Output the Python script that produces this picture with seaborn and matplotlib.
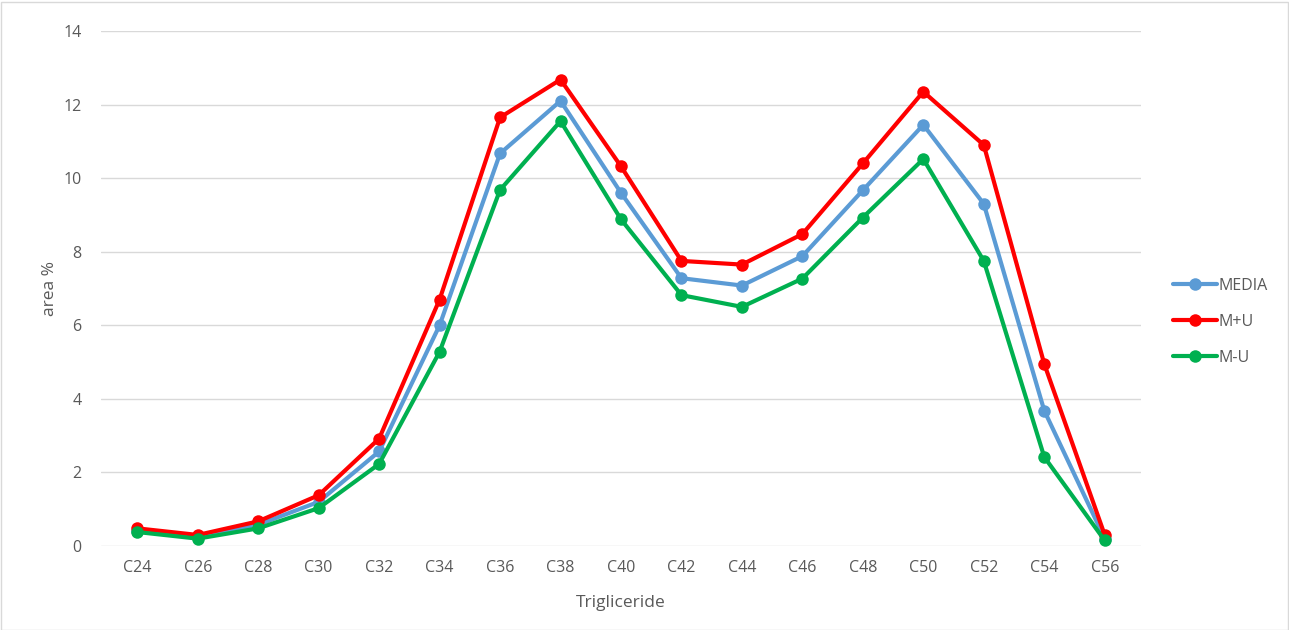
# Libraries
# =====================================================================
import pandas as pd
import seaborn as sns
import matplotlib
matplotlib.use('Agg')
import matplotlib.pyplot as plt
from matplotlib.patches import Rectangle

# Data
# =====================================================================
categories = ['C24', 'C26', 'C28', 'C30', 'C32', 'C34', 'C36', 'C38', 'C40',
              'C42', 'C44', 'C46', 'C48', 'C50', 'C52', 'C54', 'C56']
media = [0.42, 0.24, 0.58, 1.20, 2.57, 6.00, 10.67, 12.10, 9.60,
         7.28, 7.08, 7.88, 9.67, 11.45, 9.30, 3.68, 0.20]
m_plus_u = [0.48, 0.30, 0.67, 1.38, 2.92, 6.70, 11.65, 12.68, 10.32,
            7.75, 7.65, 8.48, 10.40, 12.35, 10.90, 4.95, 0.30]
m_minus_u = [0.38, 0.20, 0.48, 1.03, 2.23, 5.28, 9.68, 11.55, 8.88,
             6.82, 6.50, 7.27, 8.93, 10.52, 7.75, 2.42, 0.15]
series_names = ['MEDIA', 'M+U', 'M-U']
yticks = [0, 2, 4, 6, 8, 10, 12, 14]

# Long form dataframe
df = pd.DataFrame({
    'Trigliceride': categories * 3,
    'value': media + m_plus_u + m_minus_u,
    'serie': [s for s in series_names for _ in categories],
})

# Visualization
# =====================================================================
sns.set_style('white')
plt.rcParams['font.family'] = ['Open Sans', 'DejaVu Sans']

palette = {'MEDIA': '#5B9BD5', 'M+U': '#FF0000', 'M-U': '#00B050'}
text_color = '#595959'

fig = plt.figure(figsize=(12.89, 6.30), dpi=100)
ax = fig.add_axes([101 / 1289, 1 - 546 / 630, 1040 / 1289, 515 / 630])

sns.lineplot(data=df, x='Trigliceride', y='value', hue='serie', hue_order=series_names,
             palette=palette, marker='o', markersize=9, markeredgewidth=0,
             linewidth=3, sort=False, ax=ax)

# Axes style
ax.set_xlim(-0.6, len(categories) - 0.4)
ax.set_ylim(0, 14)
ax.set_yticks(yticks)
ax.grid(axis='y', color='#D9D9D9', linewidth=1)
ax.set_axisbelow(True)
for side in ['top', 'right', 'left', 'bottom']:
    ax.spines[side].set_visible(False)
ax.tick_params(axis='both', length=0, labelsize=11.5, labelcolor=text_color)
ax.tick_params(axis='x', pad=10)
ax.tick_params(axis='y', pad=14)
ax.set_xlabel('Trigliceride', fontsize=12.5, color=text_color, labelpad=14)
ax.set_ylabel('area %', fontsize=12.5, color=text_color, labelpad=4)

# Legend on the right
handles, labels = ax.get_legend_handles_labels()
ax.legend_.remove()
fig.legend(handles, labels, loc='center left', bbox_to_anchor=(1159 / 1289, 1 - 322 / 630),
           frameon=False, fontsize=11.5, labelcolor=text_color, handlelength=2.7,
           handletextpad=0.1, labelspacing=1.25)

# Chart frame
fig.patches.append(Rectangle((0.5 / 1289, 0.5 / 630), 1287 / 1289, 628 / 630,
                             transform=fig.transFigure, fill=False,
                             edgecolor='#D9D9D9', linewidth=1))

fig.savefig('out.png', dpi=100)
